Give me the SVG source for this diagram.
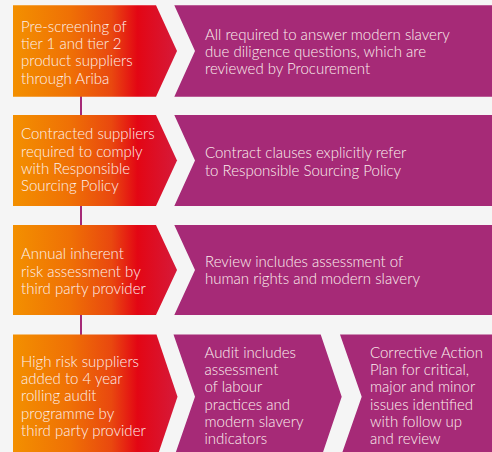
<svg xmlns="http://www.w3.org/2000/svg" width="492" height="452" viewBox="0 0 492 452">
<defs>
<linearGradient id="og" gradientUnits="userSpaceOnUse" x1="13" y1="0" x2="177" y2="0">
<stop offset="0" stop-color="#F39000"/>
<stop offset="0.35" stop-color="#EF7005"/>
<stop offset="0.6" stop-color="#E9480F"/>
<stop offset="0.76" stop-color="#E30614"/>
<stop offset="1" stop-color="#D51A3A"/>
</linearGradient>
<style>
.o{fill:url(#og)}
.p{fill:#A62A77}
.t{font-family:Lato,"Open Sans",sans-serif;font-weight:300;font-size:15px;fill:#FCF1EE}
.c{stroke:#A62A77;stroke-width:2;fill:none}
</style>
</defs>
<rect width="492" height="452" fill="#F5F5F5"/>
<g id="connectors">
<line class="c" x1="81" y1="96" x2="81" y2="115"/>
<line class="c" x1="81" y1="206" x2="81" y2="225"/>
<line class="c" x1="81" y1="315" x2="81" y2="335"/>
</g>
<g id="n1">
<path class="o" d="M13 5.3H156L177 51L156 96.7H13Z"/>
<text class="t" x="21"><tspan x="21" y="31.7">Pre-screening of</tspan><tspan x="21" y="49">tier 1 and tier 2</tspan><tspan x="21" y="66.3">product suppliers</tspan><tspan x="21" y="83.7">through Ariba</tspan></text>
</g>
<g id="n1b">
<path class="p" d="M174.3 5.3H492V96.7H174.3L195 51Z"/>
<text class="t"><tspan x="205" y="39.5">All required to answer modern slavery</tspan><tspan x="205" y="56.8">due diligence questions, which are</tspan><tspan x="205" y="74.1">reviewed by Procurement</tspan></text>
</g>
<g id="n2">
<path class="o" d="M13 115H156L177 160.5L156 206H13Z"/>
<text class="t"><tspan x="21" y="139.3">Contracted suppliers</tspan><tspan x="21" y="156.6">required to comply</tspan><tspan x="21" y="173.9">with Responsible</tspan><tspan x="21" y="191.2">Sourcing Policy</tspan></text>
</g>
<g id="n2b">
<path class="p" d="M174.3 115H492V206H174.3L195 160.5Z"/>
<text class="t"><tspan x="205" y="158.3">Contract clauses explicitly refer</tspan><tspan x="205" y="175.6">to Responsible Sourcing Policy</tspan></text>
</g>
<g id="n3">
<path class="o" d="M13 225H156L177 270L156 315H13Z"/>
<text class="t"><tspan x="21" y="259.3">Annual inherent</tspan><tspan x="21" y="276.6">risk assessment by</tspan><tspan x="21" y="293.9">third party provider</tspan></text>
</g>
<g id="n3b">
<path class="p" d="M174.3 225H492V315H174.3L195 270Z"/>
<text class="t"><tspan x="205" y="266.7">Review includes assessment of</tspan><tspan x="205" y="284">human rights and modern slavery</tspan></text>
</g>
<g id="n4">
<path class="o" d="M13 334.5H156.5L177.5 396.8L156.5 459H13Z"/>
<text class="t"><tspan x="21" y="366.7">High risk suppliers</tspan><tspan x="21" y="384">added to 4 year</tspan><tspan x="21" y="401.3">rolling audit</tspan><tspan x="21" y="418.6">programme by</tspan><tspan x="21" y="435.9">third party provider</tspan></text>
</g>
<g id="n4b">
<path class="p" d="M173.5 334.5H320.7L341.7 396.8L320.7 459H173.5L195 396.8Z"/>
<text class="t"><tspan x="204.5" y="357.7">Audit includes</tspan><tspan x="204.5" y="375">assessment</tspan><tspan x="204.5" y="392.3">of labour</tspan><tspan x="204.5" y="409.6">practices and</tspan><tspan x="204.5" y="426.9">modern slavery</tspan><tspan x="204.5" y="444.2">indicators</tspan></text>
</g>
<g id="n4c">
<path class="p" d="M340 334.5H492V459H340L361.7 396.8Z"/>
<text class="t"><tspan x="370" y="357.7">Corrective Action</tspan><tspan x="370" y="375">Plan for critical,</tspan><tspan x="370" y="392.3">major and minor</tspan><tspan x="370" y="409.6">issues identified</tspan><tspan x="370" y="426.9">with follow up</tspan><tspan x="370" y="444.2">and review</tspan></text>
</g>
</svg>
